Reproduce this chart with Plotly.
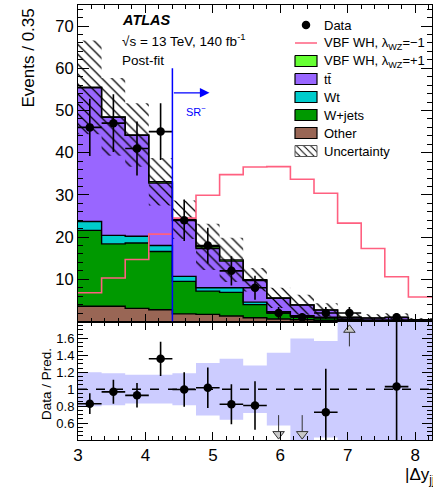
import numpy as np
import plotly.graph_objects as go

# ---- binning of |Δy_jj| ----
bin_lo, bin_w, n_bins = 3.0, 0.35, 15
edges = bin_lo + bin_w * np.arange(n_bins + 1)
centers = edges[:-1] + bin_w / 2

# ---- post-fit yields per bin ----
data = [46, 47, 41, 45, 24, 18, 12, 8, 2, 1, 2, 2, None, 1, None]
other = [3.6, 3.6, 3.1, 2.8, 1.8, 1.7, 1.3, 0.9, 0.6, 0.4, 0.3, 0.2, 0.15, 0.1, 0.05]
wjets = [18.0, 14.8, 15.5, 13.8, 7.7, 5.5, 5.6, 3.1, 1.4, 0.85, 0.5, 0.3, 0.15, 0.2, 0.05]
wt = [2.1, 2.0, 1.6, 1.4, 1.2, 0.8, 1.1, 0.6, 0.3, 0.15, 0.2, 0.1, 0.05, 0.05, 0.05]
ttbar = [31.7, 28.0, 23.9, 14.8, 13.2, 9.3, 6.3, 5.1, 3.2, 2.5, 1.7, 0.35, 0.45, 0.57, 0.23]
vbf_plus = [0.1, 0.1, 0.1, 0.3, 0.2, 0.4, 0.3, 0.2, 0.1, 0.05, 0.05, 0.05, 0.05, 0.05, 0.02]
vbf_minus = [6.8, 10.3, 14.7, 20.7, 24.5, 29.9, 34.8, 36.6, 36.7, 33.7, 30.4, 23.3, 17.3, 10.6, 5.8]
rel_unc = [0.20, 0.19, 0.17, 0.17, 0.19, 0.31, 0.36, 0.28, 0.43, 0.60, 0.57, 1.0, 1.0, 1.0, 1.0]

sr_edge = 4.4

# ---- styling ----
FONT = "Liberation Sans, Arial, Helvetica, sans-serif"
C_OTHER = "#996655"
C_WJETS = "#009900"
C_WT = "#00cccc"
C_TTBAR = "#9966ff"
C_VBFP = "#66ff33"
C_VBFM = "#ff6080"
C_BAND = "#ccccff"

W, H = 433, 487
ML, MR, MT, MB = 78, 1, 5, 47
split_px = 321.5
plot_h = H - MT - MB
split = (H - MB - split_px) / plot_h
Y_TOP = (0, 75)
R_RANGE = (0.4, 1.8)

fig = go.Figure()


def step(vals):
    v = np.asarray(vals, dtype=float)
    return np.append(v, v[-1])


# stacked backgrounds (bottom to top)
components = [
    ("Other", other, C_OTHER),
    ("W+jets", wjets, C_WJETS),
    ("Wt", wt, C_WT),
    ("ttbar", ttbar, C_TTBAR),
    ("VBF+1", vbf_plus, C_VBFP),
]
cum = np.zeros(n_bins)
for i, (name, vals, col) in enumerate(components):
    cum = cum + np.asarray(vals, dtype=float)
    fig.add_trace(go.Scatter(
        x=edges, y=step(cum), mode="lines", line_shape="hv",
        line=dict(color="black", width=1.4),
        fill="tozeroy" if i == 0 else "tonexty", fillcolor=col,
        xaxis="x", yaxis="y", hoverinfo="skip", showlegend=False))
total = cum.copy()

# hatched uncertainty band on the total prediction
rel = np.asarray(rel_unc)
fig.add_trace(go.Scatter(
    x=edges, y=step(total * (1 - rel)), mode="lines", line_shape="hv",
    line=dict(color="rgba(0,0,0,0)", width=0),
    xaxis="x", yaxis="y", hoverinfo="skip", showlegend=False))
fig.add_trace(go.Scatter(
    x=edges, y=step(total * (1 + rel)), mode="lines", line_shape="hv",
    line=dict(color="rgba(0,0,0,0)", width=0),
    fill="tonexty", fillcolor="rgba(0,0,0,0)",
    fillpattern=dict(shape="\\", fgcolor="black", bgcolor="rgba(0,0,0,0)",
                     size=7, solidity=0.18, fillmode="replace"),
    xaxis="x", yaxis="y", hoverinfo="skip", showlegend=False))

# VBF WH lambda = -1 signal shape (not stacked)
fig.add_trace(go.Scatter(
    x=edges, y=step(vbf_minus), mode="lines", line_shape="hv",
    line=dict(color=C_VBFM, width=1.6),
    xaxis="x", yaxis="y", hoverinfo="skip", showlegend=False))

# data points
dx, dy, de = [], [], []
for c, n in zip(centers, data):
    if n is None:
        continue
    dx.append(c); dy.append(n); de.append(np.sqrt(n))
fig.add_trace(go.Scatter(
    x=dx, y=dy, mode="markers",
    marker=dict(symbol="circle", size=8.5, color="black"),
    error_x=dict(type="constant", value=bin_w / 2, color="black", thickness=1.6, width=0),
    error_y=dict(type="data", array=de, color="black", thickness=1.6, width=0),
    xaxis="x", yaxis="y", hoverinfo="skip", showlegend=False))

# ---- ratio panel ----
fig.add_trace(go.Scatter(
    x=edges, y=step(1 - rel), mode="lines", line_shape="hv",
    line=dict(color="rgba(0,0,0,0)", width=0),
    xaxis="x2", yaxis="y2", hoverinfo="skip", showlegend=False))
fig.add_trace(go.Scatter(
    x=edges, y=step(1 + rel), mode="lines", line_shape="hv",
    line=dict(color="rgba(0,0,0,0)", width=0),
    fill="tonexty", fillcolor=C_BAND,
    xaxis="x2", yaxis="y2", hoverinfo="skip", showlegend=False))
fig.add_trace(go.Scatter(
    x=[edges[0], edges[-1]], y=[1, 1], mode="lines",
    line=dict(color="black", width=1.6, dash="dash"),
    xaxis="x2", yaxis="y2", hoverinfo="skip", showlegend=False))

rx, ry, re_ = [], [], []
down_x, up_x = [], []
for c, n, t in zip(centers, data, total):
    if n is None:
        continue
    r = n / t
    if r < R_RANGE[0]:
        down_x.append(c)
    elif r > R_RANGE[1]:
        up_x.append(c)
    else:
        rx.append(c); ry.append(r); re_.append(np.sqrt(n) / t)

# out-of-range arrows
span = R_RANGE[1] - R_RANGE[0]
ax_x, ax_y = [], []
for c in down_x:
    ax_x += [c, c, None]; ax_y += [R_RANGE[0] + 0.21 * span, R_RANGE[0] + 0.06 * span, None]
for c in up_x:
    ax_x += [c, c, None]; ax_y += [R_RANGE[1] - 0.21 * span, R_RANGE[1] - 0.07 * span, None]
fig.add_trace(go.Scatter(
    x=ax_x, y=ax_y, mode="lines", line=dict(color="#333333", width=1),
    xaxis="x2", yaxis="y2", hoverinfo="skip", showlegend=False))
fig.add_trace(go.Scatter(
    x=down_x + up_x,
    y=[R_RANGE[0] + 0.05 * span] * len(down_x) + [R_RANGE[1] - 0.07 * span] * len(up_x),
    mode="markers",
    marker=dict(symbol=["triangle-down"] * len(down_x) + ["triangle-up"] * len(up_x),
                size=10, color="#c8c8c8", line=dict(color="#333333", width=1)),
    xaxis="x2", yaxis="y2", hoverinfo="skip", showlegend=False))

fig.add_trace(go.Scatter(
    x=rx, y=ry, mode="markers",
    marker=dict(symbol="circle", size=8.5, color="black"),
    error_x=dict(type="constant", value=bin_w / 2, color="black", thickness=1.6, width=0),
    error_y=dict(type="data", array=re_, color="black", thickness=1.6, width=0),
    xaxis="x2", yaxis="y2", hoverinfo="skip", showlegend=False))

# ---- legend drawn in a pixel-coordinate overlay (x3/y3) ----
LX0, LX1, LTX = 295, 317, 322
rows = [25 + 18 * i for i in range(8)]
fig.add_trace(go.Scatter(
    x=[(LX0 + LX1) / 2], y=[rows[0]], mode="markers",
    marker=dict(symbol="circle", size=8.5, color="black"),
    xaxis="x3", yaxis="y3", hoverinfo="skip", showlegend=False))
fig.add_trace(go.Scatter(
    x=[LX0, LX1], y=[rows[1], rows[1]], mode="lines",
    line=dict(color=C_VBFM, width=1.6),
    xaxis="x3", yaxis="y3", hoverinfo="skip", showlegend=False))
box_cols = [C_VBFP, C_TTBAR, C_WT, C_WJETS, C_OTHER]
for yc, col in zip(rows[2:7], box_cols):
    fig.add_trace(go.Scatter(
        x=[LX0, LX1, LX1, LX0, LX0], y=[yc - 5.5, yc - 5.5, yc + 5.5, yc + 5.5, yc - 5.5],
        mode="lines", fill="toself", fillcolor=col, line=dict(color="black", width=1.2),
        xaxis="x3", yaxis="y3", hoverinfo="skip", showlegend=False))
yc = rows[7]
fig.add_trace(go.Scatter(
    x=[LX0, LX1, LX1, LX0, LX0], y=[yc - 5.5, yc - 5.5, yc + 5.5, yc + 5.5, yc - 5.5],
    mode="lines", fill="toself", fillcolor="rgba(0,0,0,0)",
    fillpattern=dict(shape="\\", fgcolor="black", bgcolor="rgba(0,0,0,0)",
                     size=5, solidity=0.2, fillmode="replace"),
    line=dict(color="#555555", width=1),
    xaxis="x3", yaxis="y3", hoverinfo="skip", showlegend=False))

leg_labels = [
    "Data",
    "VBF WH, λ<sub>WZ</sub>=−1",
    "VBF WH, λ<sub>WZ</sub>=+1",
    "tt\u0304",
    "Wt",
    "W+jets",
    "Other",
    "Uncertainty",
]
annotations = []
for yc, lab in zip(rows, leg_labels):
    annotations.append(dict(x=LTX, y=yc, xref="x3", yref="y3", text=lab, showarrow=False,
                            xanchor="left", yanchor="middle",
                            font=dict(family=FONT, size=13, color="black")))

# ATLAS label block
annotations += [
    dict(x=120, y=20, xref="x3", yref="y3", text="<b><i>ATLAS</i></b>", showarrow=False,
         xanchor="left", yanchor="middle", font=dict(family=FONT, size=14.5, color="black")),
    dict(x=120, y=40, xref="x3", yref="y3", text="√s = 13 TeV, 140 fb<sup>-1</sup>",
         showarrow=False, xanchor="left", yanchor="middle",
         font=dict(family=FONT, size=13.5, color="black")),
    dict(x=120, y=60, xref="x3", yref="y3", text="Post-fit", showarrow=False,
         xanchor="left", yanchor="middle", font=dict(family=FONT, size=13.5, color="black")),
]

# signal-region marker
annotations += [
    dict(x=4.95, y=54.2, ax=sr_edge, ay=54.2, xref="x", yref="y", axref="x", ayref="y",
         text="", showarrow=True, arrowhead=2, arrowsize=1.6, arrowwidth=1.2,
         arrowcolor="#0000ff"),
    dict(x=4.75, y=49.8, xref="x", yref="y", text="SR<sup>−</sup>", showarrow=False,
         xanchor="center", yanchor="middle", font=dict(family=FONT, size=11, color="#0000ff")),
]

# axis titles
annotations += [
    dict(x=(28 - ML) / (W - ML - MR), y=(H - MB - 58.5) / plot_h, xref="paper", yref="paper",
         text="Events / 0.35", textangle=-90, showarrow=False, xanchor="center",
         yanchor="middle", font=dict(family=FONT, size=17, color="black")),
    dict(x=(46 - ML) / (W - ML - MR), y=(H - MB - 384) / plot_h, xref="paper", yref="paper",
         text="Data / Pred.", textangle=-90, showarrow=False, xanchor="center",
         yanchor="middle", font=dict(family=FONT, size=13.5, color="black")),
    dict(x=(403 - ML) / (W - ML - MR), y=(H - MB - 476) / plot_h, xref="paper", yref="paper",
         text="|Δy<sub>jj</sub>|", showarrow=False, xanchor="left", yanchor="middle",
         font=dict(family=FONT, size=17, color="black")),
]

shapes = [
    dict(type="line", xref="x", yref="y", x0=sr_edge, x1=sr_edge, y0=0, y1=60,
         line=dict(color="#0000ff", width=1.5)),
]

axis_common = dict(showline=True, linecolor="black", linewidth=1, mirror="allticks",
                   ticks="inside", tickcolor="black", tickwidth=1, showgrid=False,
                   zeroline=False)

fig.update_layout(
    width=W, height=H,
    margin=dict(l=ML, r=MR, t=MT, b=MB, pad=0),
    paper_bgcolor="white", plot_bgcolor="rgba(0,0,0,0)",
    font=dict(family=FONT, color="black"),
    showlegend=False,
    xaxis=dict(domain=[0, 1], anchor="y", range=[edges[0], edges[-1]], matches="x2",
               tickvals=[3, 4, 5, 6, 7, 8], showticklabels=False, ticklen=8,
               minor=dict(dtick=0.2, ticks="inside", ticklen=4, tickcolor="black"),
               **axis_common),
    yaxis=dict(domain=[split, 1], anchor="x", range=list(Y_TOP),
               tickvals=[10, 20, 30, 40, 50, 60, 70], ticklen=11,
               tickfont=dict(family=FONT, size=16.5, color="black"),
               minor=dict(dtick=2, ticks="inside", ticklen=5, tickcolor="black"),
               **axis_common),
    xaxis2=dict(domain=[0, 1], anchor="y2", range=[edges[0], edges[-1]],
                tickvals=[3, 4, 5, 6, 7, 8], ticklen=8,
                tickfont=dict(family=FONT, size=17, color="black"),
                minor=dict(dtick=0.2, ticks="inside", ticklen=4, tickcolor="black"),
                **axis_common),
    yaxis2=dict(domain=[0, split], anchor="x2", range=list(R_RANGE),
                tickvals=[0.6, 0.8, 1.0, 1.2, 1.4, 1.6],
                ticktext=["0.6", "0.8", "1", "1.2", "1.4", "1.6"], ticklen=10,
                tickfont=dict(family=FONT, size=13, color="black"),
                minor=dict(dtick=0.05, ticks="inside", ticklen=5, tickcolor="black"),
                **axis_common),
    xaxis3=dict(domain=[0, 1], anchor="y3", range=[ML, W - MR], visible=False),
    yaxis3=dict(domain=[split, 1], anchor="x3", range=[split_px, MT], visible=False),
    annotations=annotations,
    shapes=shapes,
)

fig.write_html("out.html")
